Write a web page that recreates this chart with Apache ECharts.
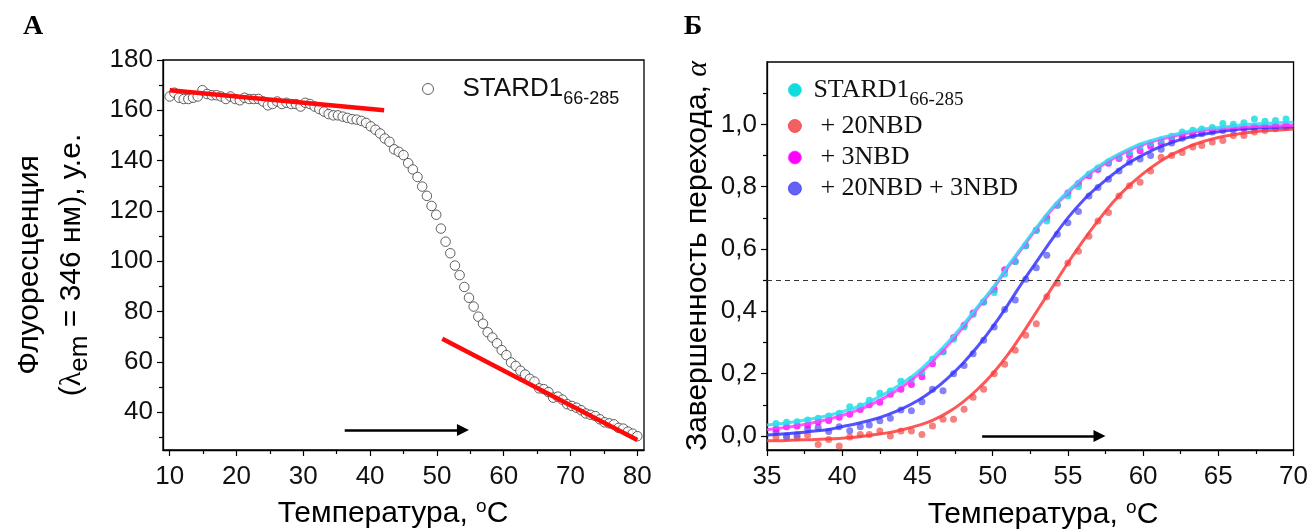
<!DOCTYPE html>
<html>
<head>
<meta charset="utf-8">
<script src="https://cdn.jsdelivr.net/npm/echarts@6/dist/echarts.min.js"></script>
<style>
html, body { margin: 0; padding: 0; background: #fff; }
#chart { width: 1311px; height: 529px; }
</style>
</head>
<body>
<div id="chart"></div>
<script>
// ---- panel A: tryptophan fluorescence vs temperature ----
var tempsA = [10.0,10.7,11.4,12.1,12.8,13.5,14.2,14.9,15.6,16.3,17.0,17.7,18.4,19.1,19.8,20.5,21.2,21.9,22.6,23.3,
	24.0,24.7,25.4,26.1,26.8,27.5,28.2,28.9,29.6,30.3,31.0,31.7,32.4,33.1,33.8,34.5,35.2,35.9,36.6,37.3,
	38.0,38.7,39.4,40.1,40.8,41.5,42.2,42.9,43.6,44.3,45.0,45.7,46.4,47.1,47.8,48.5,49.2,49.9,50.6,51.3,
	52.0,52.7,53.4,54.1,54.8,55.5,56.2,56.9,57.6,58.3,59.0,59.7,60.4,61.1,61.8,62.5,63.2,63.9,64.6,65.3,
	66.0,66.7,67.4,68.1,68.8,69.5,70.2,70.9,71.6,72.3,73.0,73.7,74.4,75.1,75.8,76.5,77.2,77.9,78.6,79.3,80.0];
var fluoA = [165.5,167,165,164.5,164.5,165,165.5,168,166.5,166,
	166,165.5,164.5,165.5,164.5,164,165,164.5,164.5,164.5,
	163.5,162,162.5,163.5,162.5,163,162.5,162.5,161.5,163,
	162.5,161.5,160.5,159.5,158.5,158,158,157.5,157,156.5,
	156.3,155.8,155,153.6,152.3,150.8,148.8,147.5,144.5,143.5,
	142.2,139,136.5,133.5,129.7,126,122,118.5,113,107.8,
	103.2,98.3,94.5,89.8,85.5,82,78,75.2,71.8,69.7,
	67.4,64.7,62.7,59.8,58.4,56.5,55,53.3,52.2,49.5,
	49.2,48,45.8,46.2,45,43.2,42.5,41.8,40.8,39.5,
	39,38.5,37.2,36,35.6,35.2,33.8,33.5,32.3,31.5,30.5];
// linear baselines drawn in red
var baseLowA = [[10, 168], [42.1, 160]];
var baseHighA = [[50.8, 69.2], [80, 29]];
var arrowA = [[36.2, 32.9], [53.9, 32.9]];
var xTicksA = [10, 20, 30, 40, 50, 60, 70, 80];
var xMinorA = [15, 25, 35, 45, 55, 65, 75];
var yTicksA = [40, 60, 80, 100, 120, 140, 160, 180];
var yMinorA = [30, 50, 70, 90, 110, 130, 150, 170];

// ---- panel B: transition completeness ----
var tempsB = [35.6,36.3,37.0,37.7,38.4,39.1,39.8,40.5,41.2,41.8,
	42.5,43.2,43.9,44.6,45.3,46.0,46.7,47.4,48.1,48.7,
	49.4,50.1,50.8,51.5,52.2,52.9,53.6,54.3,55.0,55.7,
	56.4,57.0,57.7,58.4,59.1,59.8,60.5,61.2,61.9,62.6,
	63.3,63.9,64.6,65.3,66.0,66.7,67.4,68.1,68.8,69.5];
var dotsStard = [0.04,0.044,0.046,0.051,0.057,0.064,0.073,0.094,0.096,0.115,
	0.137,0.144,0.176,0.182,0.205,0.246,0.27,0.31,0.35,0.39,
	0.43,0.46,0.52,0.56,0.61,0.66,0.69,0.74,0.77,0.80,
	0.84,0.86,0.88,0.895,0.91,0.93,0.94,0.95,0.962,0.975,
	0.981,0.985,0.99,1.003,1.0,1.005,1.017,1.01,1.012,1.017];
var dots20 = [-0.003,-0.005,-0.005,0.003,-0.027,-0.011,-0.032,-0.003,0.005,0.005,
	0.016,0,0.016,0.016,0.005,0.032,0.054,0.054,0.086,0.124,
	0.15,0.2,0.23,0.275,0.323,0.36,0.447,0.49,0.555,0.593,
	0.641,0.69,0.717,0.77,0.803,0.814,0.85,0.894,0.9,0.91,
	0.927,0.932,0.943,0.948,0.964,0.964,0.975,0.98,0.986,0.99];
var dots3 = [0.022,0.03,0.032,0.035,0.045,0.05,0.06,0.07,0.085,0.1,
	0.108,0.134,0.15,0.165,0.19,0.232,0.27,0.316,0.355,0.395,
	0.43,0.47,0.533,0.56,0.61,0.66,0.70,0.74,0.78,0.81,
	0.835,0.855,0.875,0.89,0.90,0.915,0.93,0.94,0.955,0.965,
	0.972,0.975,0.982,0.985,0.99,0.99,0.993,0.995,0.995,0.998];
var dots20and3 = [0.014,0.0,0.003,0.022,0.027,0.014,0.03,0.017,0.03,0.035,
	0.049,0.057,0.083,0.081,0.11,0.15,0.145,0.2,0.226,0.264,
	0.307,0.35,0.406,0.436,0.503,0.54,0.58,0.647,0.684,0.72,
	0.77,0.797,0.824,0.85,0.878,0.889,0.9,0.92,0.94,0.955,
	0.964,0.97,0.975,0.98,0.983,0.986,0.99,0.99,0.993,0.995];
// fitted curves, one value per degree
var tempsFit = [35,36,37,38,39,40,41,42,43,44,45,46,47,48,49,50,51,52,53,54,55,56,57,58,59,60,61,62,63,64,65,66,67,68,69,70];
var fitStard = [0.035,0.04,0.047,0.055,0.065,0.078,0.093,0.115,0.14,0.17,0.205,0.25,0.30,0.355,0.415,0.475,0.545,0.61,
	0.675,0.735,0.785,0.83,0.865,0.895,0.92,0.94,0.955,0.967,0.977,0.985,0.99,0.995,1.0,1.003,1.005,1.007];
var fit3 = [0.02,0.026,0.033,0.042,0.053,0.066,0.082,0.103,0.128,0.158,0.195,0.24,0.29,0.347,0.41,0.47,0.54,0.605,
	0.67,0.73,0.78,0.825,0.86,0.89,0.915,0.935,0.95,0.962,0.972,0.98,0.985,0.989,0.992,0.994,0.995,0.996];
var fit20and3 = [0.003,0.006,0.01,0.015,0.02,0.03,0.04,0.052,0.068,0.088,0.113,0.145,0.185,0.232,0.287,0.35,0.42,0.495,
	0.565,0.635,0.70,0.755,0.80,0.84,0.875,0.902,0.925,0.943,0.958,0.968,0.976,0.982,0.986,0.989,0.991,0.992];
var fit20 = [-0.015,-0.015,-0.013,-0.012,-0.01,-0.007,-0.003,0.003,0.01,0.02,0.033,0.05,0.075,0.108,0.15,0.2,0.26,0.33,
	0.405,0.48,0.555,0.625,0.69,0.75,0.8,0.842,0.877,0.905,0.928,0.945,0.958,0.967,0.974,0.979,0.982,0.985];
var halfLevel = 0.5;
var arrowB = [[49.3, 0], [57.1, 0]];
var yTicksB = [0, 0.2, 0.4, 0.6, 0.8, 1.0];
var yMinorB = [0.1, 0.3, 0.5, 0.7, 0.9, 1.1];
var xMinorB = [37.5, 42.5, 47.5, 52.5, 57.5, 62.5, 67.5];

var FONT = 'Liberation Sans';
var SERIF = 'Liberation Serif';
var INK = '#111';

function pairs(xs, ys) {
	return xs.map(function(x, i) { return [x, ys[i]]; });
}

var axisLine = { show: true, onZero: false, lineStyle: { color: '#000', width: 1.3 } };
var tickLine = { color: '#000', width: 1.2 };
var tickLabel = { color: INK, fontFamily: FONT, fontSize: 26, margin: 10 };

// extra axis that only carries the short (minor) ticks; its own line is invisible
function minorAxis(grid, pos, min, max, values) {
	return {
		type: 'value', gridIndex: grid, position: pos, min: min, max: max,
		axisLine: { show: true, onZero: false, lineStyle: { color: '#000', opacity: 0 } },
		axisTick: { show: true, length: 4, customValues: values, lineStyle: tickLine },
		axisLabel: { show: false },
		splitLine: { show: false }
	};
}

var chart = echarts.init(document.getElementById('chart'));

var colB = {
	stard: { dot: '#0fdcdc', line: '#33dcf2' },
	n20: { dot: '#f06262', line: '#ff3a3a' },
	n3: { dot: '#ff00ff', line: '#ff3cff' },
	both: { dot: '#6464f4', line: '#3434ff' }
};

function dotSeries(name, data, c) {
	return {
		name: name, type: 'scatter', xAxisIndex: 2, yAxisIndex: 2,
		data: pairs(tempsB, data), symbol: 'circle', symbolSize: 7,
		itemStyle: { color: c.dot, opacity: 0.8 }, silent: true
	};
}
function fitSeries(name, data, c) {
	return {
		name: name, type: 'line', xAxisIndex: 2, yAxisIndex: 2,
		data: pairs(tempsFit, data), smooth: 0.4, symbol: 'none',
		lineStyle: { color: c.line, width: 3, opacity: 0.85 }, silent: true
	};
}

var richRight = {
	a: { fontFamily: SERIF, fontSize: 26, color: INK, padding: [0, 0, 0, 7] },
	p: { fontFamily: SERIF, fontSize: 26, color: INK, padding: [0, 0, 0, 14] },
	s: { fontFamily: SERIF, fontSize: 19, color: INK, padding: [20, 0, 0, 0] }
};
function rightLegend(name, text, top, c) {
	return {
		data: [{ name: name, icon: 'circle', itemStyle: { color: c.dot, opacity: 1, borderColor: c.line, borderWidth: 0.8 } }],
		left: 788, top: top, padding: 0, itemWidth: 13, itemHeight: 13,
		selectedMode: false,
		formatter: function() { return text; },
		textStyle: { rich: richRight }
	};
}

function titleText(x, y, rot, text, rich) {
	return {
		type: 'text', x: x, y: y, rotation: rot,
		style: { text: text, align: 'center', verticalAlign: 'middle', rich: rich }
	};
}
var tempRich = {
	a: { fontFamily: FONT, fontSize: 30, color: INK },
	o: { fontFamily: FONT, fontSize: 19, color: INK, padding: [0, 0, 15, 0] }
};

var option = {
	animation: false,
	backgroundColor: '#fff',
	grid: [
		{ left: 163, right: 667, top: 60, bottom: 79, show: true, borderColor: '#000', borderWidth: 1.3 },
		{ left: 767, right: 16, top: 62, bottom: 79, show: true, borderColor: '#000', borderWidth: 1.3 }
	],
	xAxis: [
		{
			type: 'value', gridIndex: 0, position: 'bottom', min: 9, max: 81,
			axisLine: axisLine,
			axisTick: { show: true, length: 6, customValues: xTicksA, lineStyle: tickLine },
			axisLabel: Object.assign({}, tickLabel, { customValues: xTicksA, margin: 14 }),
			splitLine: { show: false }
		},
		minorAxis(0, 'bottom', 9, 81, xMinorA),
		{
			type: 'value', gridIndex: 1, position: 'bottom', min: 35, max: 70, interval: 5,
			axisLine: axisLine,
			axisTick: { show: true, length: 6, lineStyle: tickLine },
			axisLabel: Object.assign({}, tickLabel, { margin: 14 }),
			splitLine: { show: false }
		},
		minorAxis(1, 'bottom', 35, 70, xMinorB)
	],
	yAxis: [
		{
			type: 'value', gridIndex: 0, position: 'left', min: 25, max: 180,
			axisLine: axisLine,
			axisTick: { show: true, length: 6, customValues: yTicksA, lineStyle: tickLine },
			axisLabel: Object.assign({}, tickLabel, { customValues: yTicksA }),
			splitLine: { show: false }
		},
		minorAxis(0, 'left', 25, 180, yMinorA),
		{
			type: 'value', gridIndex: 1, position: 'left', min: -0.045, max: 1.2,
			axisLine: axisLine,
			axisTick: { show: true, length: 6, customValues: yTicksB, lineStyle: tickLine },
			axisLabel: Object.assign({}, tickLabel, {
				customValues: yTicksB,
				formatter: function(v) { return v.toFixed(1).replace('.', ','); }
			}),
			splitLine: { show: false }
		},
		minorAxis(1, 'left', -0.045, 1.2, yMinorB)
	],
	legend: [
		{
			data: [{ name: 'STARD1 66-285 (A)', icon: 'circle', itemStyle: { color: '#fff', borderColor: '#3a3a3a', borderWidth: 1 } }],
			left: 422, top: 76, padding: 0, itemWidth: 11, itemHeight: 11,
			selectedMode: false,
			formatter: function() { return '{a|STARD1}{s|66-285}'; },
			textStyle: {
				rich: {
					a: { fontFamily: FONT, fontSize: 26, color: INK, padding: [0, 0, 0, 24] },
					s: { fontFamily: FONT, fontSize: 18, color: INK, padding: [20, 0, 0, 0] }
				}
			}
		},
		rightLegend('STARD1 66-285', '{a|STARD1}{s|66-285}', 77, colB.stard),
		rightLegend('+ 20NBD', '{p|+ 20NBD}', 113, colB.n20),
		rightLegend('+ 3NBD', '{p|+ 3NBD}', 144.5, colB.n3),
		rightLegend('+ 20NBD + 3NBD', '{p|+ 20NBD + 3NBD}', 175.5, colB.both)
	],
	series: [
		{
			name: 'STARD1 66-285 (A)', type: 'scatter', xAxisIndex: 0, yAxisIndex: 0,
			data: pairs(tempsA, fluoA), symbol: 'circle', symbolSize: 9.5,
			itemStyle: { color: '#fff', borderColor: '#3a3a3a', borderWidth: 1 },
			silent: true,
			markLine: {
				silent: true, symbol: ['none', 'triangle'], symbolSize: 12,
				label: { show: false },
				lineStyle: { color: '#000', width: 2.5, type: 'solid' },
				data: [[{ coord: arrowA[0] }, { coord: arrowA[1] }]]
			}
		},
		{
			name: 'base low', type: 'line', xAxisIndex: 0, yAxisIndex: 0,
			data: baseLowA, symbol: 'none', silent: true,
			lineStyle: { color: '#ff0a0a', width: 4.5 }
		},
		{
			name: 'base high', type: 'line', xAxisIndex: 0, yAxisIndex: 0,
			data: baseHighA, symbol: 'none', silent: true,
			lineStyle: { color: '#ff0a0a', width: 4.5 }
		},
		Object.assign(dotSeries('+ 20NBD', dots20, colB.n20), {
			markLine: {
				silent: true, symbol: ['none', 'none'],
				label: { show: false },
				lineStyle: { color: '#333', width: 1, type: [5, 4] },
				data: [{ yAxis: halfLevel }]
			}
		}),
		Object.assign(dotSeries('+ 20NBD + 3NBD', dots20and3, colB.both), {
			markLine: {
				silent: true, symbol: ['none', 'triangle'], symbolSize: 12,
				label: { show: false },
				lineStyle: { color: '#000', width: 2.5, type: 'solid' },
				data: [[{ coord: arrowB[0] }, { coord: arrowB[1] }]]
			}
		}),
		dotSeries('+ 3NBD', dots3, colB.n3),
		dotSeries('STARD1 66-285', dotsStard, colB.stard),
		fitSeries('+ 20NBD', fit20, colB.n20),
		fitSeries('+ 20NBD + 3NBD', fit20and3, colB.both),
		fitSeries('+ 3NBD', fit3, colB.n3),
		fitSeries('STARD1 66-285', fitStard, colB.stard)
	],
	graphic: [
		titleText(33, 27, 0, '{b|А}', { b: { fontFamily: SERIF, fontWeight: 'bold', fontSize: 28, color: INK } }),
		titleText(693, 27, 0, '{b|Б}', { b: { fontFamily: SERIF, fontWeight: 'bold', fontSize: 28, color: INK } }),
		titleText(30, 265, Math.PI / 2, '{a|Флуоресценция}', { a: { fontFamily: FONT, fontSize: 30, color: INK } }),
		titleText(72, 265, Math.PI / 2, '{a|(}{l|λ}{s|em}{a| = 346 нм), у.е.}', {
			a: { fontFamily: FONT, fontSize: 30, color: INK },
			l: { fontFamily: SERIF, fontSize: 30, color: INK },
			s: { fontFamily: FONT, fontSize: 26, color: INK, padding: [16, 0, 0, 0] }
		}),
		titleText(698, 256, Math.PI / 2, '{a|Завершенность перехода, }{g|α}', {
			a: { fontFamily: FONT, fontSize: 30, color: INK },
			g: { fontFamily: SERIF, fontStyle: 'italic', fontSize: 30, color: INK }
		}),
		titleText(393, 514, 0, '{a|Температура, }{o|o}{a|C}', tempRich),
		titleText(1043, 515, 0, '{a|Температура, }{o|o}{a|C}', tempRich)
	]
};

chart.setOption(option);
</script>
</body>
</html>
